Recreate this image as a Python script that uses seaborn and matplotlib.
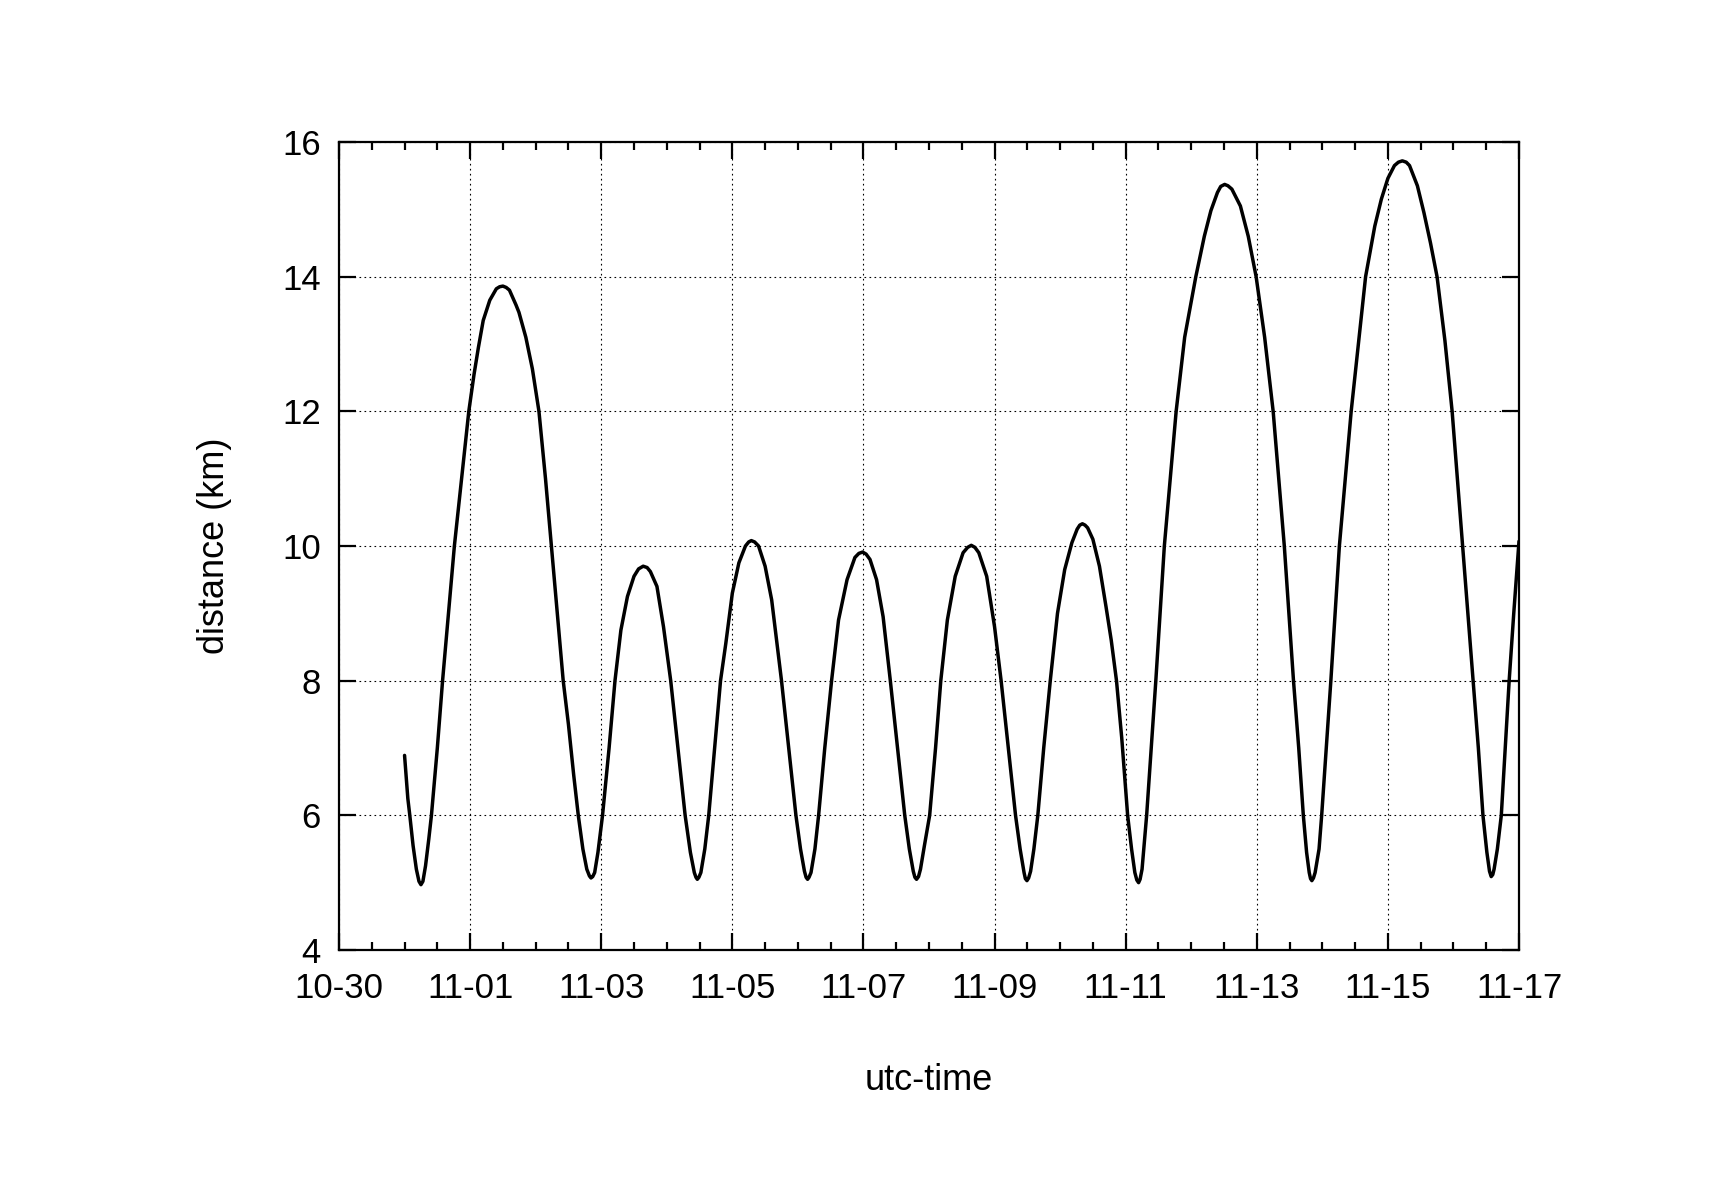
import numpy as np
import pandas as pd
import matplotlib
matplotlib.use("Agg")
import matplotlib.pyplot as plt
import matplotlib.dates as mdates
import seaborn as sns

# time in days after 10-30 00:00 UTC, distance in km
day_offset = [
    1.00, 1.05, 1.08, 1.13, 1.18, 1.22, 1.25, 1.28, 1.32, 1.37, 1.41, 1.50, 1.58, 1.67,
    1.76, 1.87, 1.98, 2.06, 2.125, 2.20, 2.30, 2.40, 2.45, 2.50, 2.55, 2.60, 2.70, 2.745, 2.85, 2.95,
    3.05, 3.15, 3.24, 3.33, 3.42, 3.50, 3.58, 3.65, 3.72, 3.78, 3.82, 3.844, 3.87, 3.90, 3.95, 4.02,
    4.12, 4.21, 4.30, 4.40, 4.50, 4.57, 4.64, 4.70, 4.75, 4.85, 4.95, 5.06, 5.17, 5.28, 5.36, 5.42,
    5.445, 5.466, 5.49, 5.52, 5.58, 5.64, 5.73, 5.82, 5.90, 6.00, 6.10, 6.20, 6.25, 6.29, 6.34, 6.40, 6.50, 6.60,
    6.75, 6.86, 6.97, 7.04, 7.10, 7.125, 7.148, 7.17, 7.20, 7.26, 7.316, 7.41, 7.514, 7.62, 7.75, 7.87,
    7.93, 7.987, 8.04, 8.10, 8.20, 8.30, 8.41, 8.52, 8.63, 8.70, 8.76, 8.785, 8.81, 8.84, 8.87, 8.93, 9.01, 9.10,
    9.18, 9.28, 9.40, 9.52, 9.59, 9.645, 9.70, 9.76, 9.88, 10.00, 10.10, 10.21, 10.32, 10.39, 10.45,
    10.47, 10.494, 10.52, 10.55, 10.60, 10.66, 10.75, 10.85, 10.96, 11.07, 11.18, 11.26, 11.30, 11.34, 11.38, 11.42,
    11.50, 11.60, 11.70, 11.78, 11.86, 11.94, 12.03, 12.09, 12.14, 12.17, 12.197, 12.22, 12.25, 12.32,
    12.46, 12.59, 12.77, 12.90, 13.07, 13.20, 13.30, 13.40, 13.45, 13.51, 13.56, 13.62, 13.75, 13.87,
    13.99, 14.12, 14.25, 14.42, 14.56, 14.64, 14.71, 14.76, 14.80, 14.82, 14.84, 14.865, 14.89, 14.95,
    14.99, 15.13, 15.26, 15.44, 15.66, 15.80, 15.90, 16.00, 16.10, 16.16, 16.22, 16.28, 16.33, 16.45,
    16.55, 16.65, 16.75, 16.87, 16.98, 17.14, 17.30, 17.38, 17.45, 17.51, 17.55, 17.576,
    17.60, 17.62, 17.67, 17.73, 17.85, 17.92, 18.00,
]
distance_km = [
    6.89, 6.25, 6.00, 5.55, 5.20, 5.02, 4.97, 5.02, 5.25, 5.65, 6.00, 7.00, 8.00, 9.00,
    10.00, 11.00, 12.00, 12.55, 12.94, 13.35, 13.65, 13.82, 13.85, 13.86, 13.84, 13.80, 13.58, 13.47, 13.10, 12.63,
    12.00, 11.00, 10.00, 9.00, 8.00, 7.35, 6.60, 6.00, 5.50, 5.20, 5.10, 5.07, 5.09, 5.15, 5.45, 6.00,
    7.00, 8.00, 8.75, 9.25, 9.55, 9.66, 9.70, 9.68, 9.62, 9.40, 8.80, 8.00, 7.00, 6.00, 5.45, 5.15,
    5.08, 5.05, 5.08, 5.15, 5.50, 6.00, 7.00, 8.00, 8.55, 9.30, 9.75, 10.00, 10.06, 10.08, 10.06, 10.00, 9.70, 9.20,
    8.00, 7.00, 6.00, 5.50, 5.17, 5.08, 5.05, 5.08, 5.15, 5.50, 6.00, 7.00, 8.00, 8.90, 9.50, 9.83,
    9.89, 9.91, 9.88, 9.80, 9.50, 8.95, 8.00, 7.00, 6.00, 5.50, 5.17, 5.08, 5.05, 5.09, 5.20, 5.55, 6.00, 7.00,
    8.00, 8.90, 9.55, 9.90, 9.98, 10.01, 9.98, 9.90, 9.55, 8.80, 8.00, 7.00, 6.00, 5.50, 5.15,
    5.06, 5.03, 5.07, 5.17, 5.50, 6.00, 7.00, 8.00, 9.00, 9.65, 10.05, 10.25, 10.31, 10.33, 10.31, 10.27,
    10.10, 9.70, 9.10, 8.60, 8.00, 7.15, 6.00, 5.50, 5.15, 5.04, 5.00, 5.05, 5.20, 6.00,
    8.00, 10.00, 12.00, 13.10, 14.00, 14.60, 14.98, 15.25, 15.34, 15.37, 15.35, 15.30, 15.05, 14.60,
    14.00, 13.10, 12.00, 10.00, 8.00, 7.00, 6.00, 5.45, 5.15, 5.06, 5.03, 5.07, 5.15, 5.50,
    6.00, 8.00, 10.00, 12.00, 14.00, 14.75, 15.15, 15.46, 15.65, 15.70, 15.72, 15.70, 15.65, 15.35,
    14.95, 14.50, 14.00, 13.05, 12.00, 10.00, 8.00, 7.00, 6.00, 5.45, 5.17, 5.09,
    5.12, 5.20, 5.50, 6.00, 8.00, 9.00, 10.07,
]
x_tick_labels = ["10-30", "11-01", "11-03", "11-05", "11-07", "11-09", "11-11", "11-13", "11-15", "11-17"]
y_ticks = [4, 6, 8, 10, 12, 14, 16]

start = pd.Timestamp("2012-10-30 00:00")
df = pd.DataFrame({
    "utc-time": start + pd.to_timedelta(day_offset, unit="D"),
    "distance (km)": distance_km,
})

sns.set_theme(style="white")
plt.rcParams["font.family"] = ["Liberation Sans", "DejaVu Sans"]
plt.rcParams["text.color"] = "black"
plt.rcParams["axes.labelcolor"] = "black"

fig = plt.figure(figsize=(17.16, 12.0), dpi=100)
ax = fig.add_axes([339 / 1716, 250 / 1200, 1180 / 1716, 808 / 1200])

sns.lineplot(data=df, x="utc-time", y="distance (km)", ax=ax, color="black",
             linewidth=2.5, sort=False, estimator=None)

ax.set_xlim(start, start + pd.Timedelta(days=18))
ax.set_ylim(4, 16)

major_dates = pd.date_range(start, periods=len(x_tick_labels), freq="2D")
ax.xaxis.set_major_locator(matplotlib.ticker.FixedLocator(mdates.date2num(major_dates)))
ax.xaxis.set_major_formatter(matplotlib.ticker.FixedFormatter(x_tick_labels))
ax.xaxis.set_minor_locator(mdates.HourLocator(byhour=[0, 12]))
ax.set_yticks(y_ticks)
ax.set_yticklabels([str(v) for v in y_ticks])

ax.tick_params(axis="both", which="major", direction="in", length=12, width=1.6,
               labelsize=25, top=True, right=True, bottom=True, left=True,
               colors="black", labelcolor="black")
ax.tick_params(axis="x", which="major", pad=15.5)
ax.tick_params(axis="y", which="major", pad=13)
ax.tick_params(axis="x", which="minor", direction="in", length=6, width=1.6,
               top=True, bottom=True, colors="black")

for s in ax.spines.values():
    s.set_linewidth(1.6)
    s.set_color("black")

ax.grid(True, which="major", color="black", linestyle=(0, (1.5, 3)), linewidth=0.8)
ax.set_axisbelow(True)

ax.set_xlabel("utc-time", fontsize=26, labelpad=42, color="black")
ax.set_ylabel("distance (km)", fontsize=26, labelpad=36, color="black")

fig.savefig("out.png", dpi=100, facecolor="white")
